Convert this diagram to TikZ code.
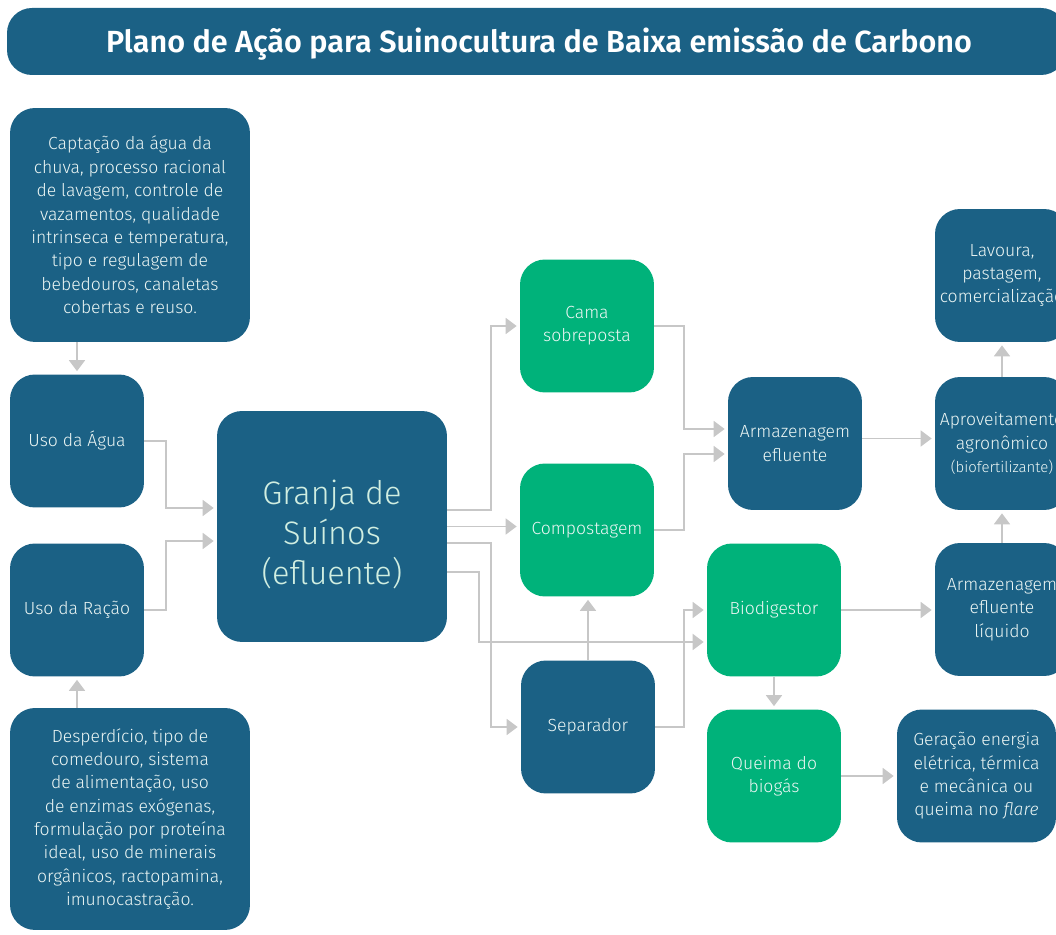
\documentclass[tikz,border=0pt]{standalone}
\usepackage{fontspec}
\setmainfont{Fira Sans}[UprightFont=* Light, ItalicFont=* Light Italic, BoldFont=* SemiBold]
\usetikzlibrary{arrows.meta}
\definecolor{colBlue}{RGB}{27,97,133}
\definecolor{colGreen}{RGB}{0,178,122}
\definecolor{colText}{RGB}{236,246,244}
\definecolor{colMint}{RGB}{208,238,225}
\colorlet{ecol}{black!22!white}
\tikzstyle{box}=[rectangle, rounded corners=0.5cm, inner sep=0pt, align=center, text=colText, font=\fontsize{10}{13.3}\selectfont, minimum width=2.68cm, minimum height=2.66cm]
\tikzstyle{bbox}=[box, fill=colBlue]
\tikzstyle{gbox}=[box, fill=colGreen]
\tikzstyle{tbox}=[bbox, minimum width=4.8cm, minimum height=4.68cm]
\tikzstyle{arr}=[line width=1.1pt, ecol, shorten >=0.06cm, -{Triangle[length=0.22cm,width=0.32cm]}]

\begin{document}
\begin{tikzpicture}[x=0.02cm, y=-0.02cm]
			\useasboundingbox (0,0) rectangle (1056,935);
			\clip (0,0) rectangle (1056,935);

			% title
			\fill[colBlue, rounded corners=0.5cm] (7,8) rectangle (1066,75);
			\node[text=white, font=\fontsize{17.4}{21}\selectfont\bfseries] (title) at (539,44)
				{Plano de Ação para Suinocultura de Baixa emissão de Carbono};

			%%% Left part
			\node[tbox]                          (wtxt) at (130,225) {Captação da água da\\chuva, processo racional\\de lavagem, controle de\\vazamentos, qualidade\\intrinseca e temperatura,\\tipo e regulagem de\\bebedouros, canaletas\\cobertas e reuso.};
			\node[bbox]                            (ua) at (77,441)  {Uso da Água};
			\node[bbox]                            (ur) at (77,610)  {Uso da Ração};
			\node[tbox, minimum height=4.44cm]   (ftxt) at (130,819) {Desperdício, tipo de\\comedouro, sistema\\de alimentação, uso\\de enzimas exógenas,\\formulação por proteína\\ideal, uso de minerais\\orgânicos, ractopamina,\\imunocastração.};

			%%% Center
			\node[bbox, minimum width=4.6cm, minimum height=4.62cm, text=colMint, font=\fontsize{18.5}{22.5}\selectfont] (gr) at (332,526.5) {\rule{0pt}{23pt}Granja de\\Suínos\\(efluente)};
			\node[gbox]                          (cama) at (587,326) {Cama\\sobreposta};
			\node[gbox]                          (comp) at (587,530) {Compostagem};
			\node[bbox]                           (sep) at (588,727) {Separador};
			\node[bbox]                           (arm) at (795,443.5) {Armazenagem\\efluente};
			\node[gbox]                           (bio) at (774,610) {Biodigestor};
			\node[gbox]                            (qb) at (774,776) {Queima do\\biogás};

			%%% Right part
			\node[bbox]                           (lav) at (1002,275.5) {Lavoura,\\pastagem,\\comercialização};
			\node[bbox]                           (apr) at (1002,443.5) {Aproveitamento\\agronômico\\{\fontsize{8.5}{11}\selectfont(biofertilizante)}};
			\node[bbox]                           (arl) at (1002,609.5) {Armazenagem\\efluente\\líquido};
			\node[bbox, minimum width=3.18cm]     (ger) at (976.5,776) {Geração energia\\elétrica, térmica\\e mecânica ou\\queima no \textit{flare}};

			%%% Arrows to the farm
			\draw[arr] (wtxt.south -| ua.north) -- (ua.north);
			\draw[arr] (ftxt.north -| ur.south) -- (ur.south);
			\draw[arr] (ua.east) -- ++(22,0) |- ([yshift=0.37cm]gr.west);
			\draw[arr] (ur.east) -- ++(22,0) |- ([yshift=-0.29cm]gr.west);

			%%% Arrows out of the farm
			\draw[arr] ([yshift=0.33cm]gr.east) -- ++(44,0) |- (cama.west);
			\draw[arr] (gr.east) -- (gr.east -| comp.west);
			\draw[arr] ([yshift=-0.33cm]gr.east) -- ++(44,0) |- (sep.west);
			\draw[arr] ([yshift=-0.91cm]gr.east) -- ++(32,0) |- ([yshift=-0.64cm]bio.west);

			%%% Middle
			\draw[arr] (cama.east) -- ++(30,0) |- ([yshift=0.29cm]arm.west);
			\draw[arr] (comp.east) -- ++(30,0) |- ([yshift=-0.21cm]arm.west);
			\draw[arr] (sep.north) -- (sep.north |- comp.south);
			\draw[arr] (sep.east) -- ++(29,0) |- (bio.west);
			\draw[arr] (bio.south) -- (qb.north);

			%%% Right
			\draw[arr] ([yshift=0.1cm]arm.east) -- ([yshift=0.1cm]arm.east -| apr.west);
			\draw[arr] (apr.north) -- (lav.south);
			\draw[arr] (arl.north) -- (apr.south);
			\draw[arr] (bio.east) -- (bio.east -| arl.west);
			\draw[arr] (qb.east) -- (qb.east -| ger.west);
		\end{tikzpicture}
\end{document}
